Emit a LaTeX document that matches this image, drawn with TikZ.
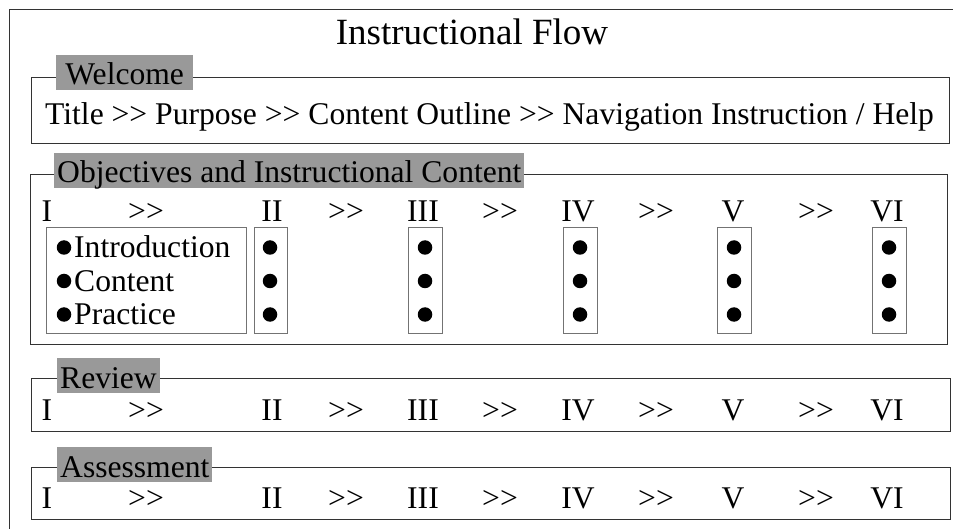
\documentclass[tikz,border=0pt]{standalone}
\usepackage{fontspec}
\setmainfont{Liberation Serif}
\tikzset{
	rahmen/.style={draw=black!80, line width=0.9pt},
	kasten/.style={draw=black!55, line width=0.8pt},
	kopf/.style={fill=black!40, inner xsep=3pt, inner ysep=0pt,
		text height=30pt, text depth=5pt, anchor=base west,
		font=\fontsize{31.6}{36}\selectfont},
	eintrag/.style={anchor=base, inner sep=0pt,
		font=\fontsize{31.6}{36}\selectfont},
	zeile/.style={eintrag, anchor=base west},
	punkt/.style={circle, fill=black, inner sep=0pt, minimum size=14.5pt}
}
\newcommand{\weiter}{>\kern0pt>}
\begin{document}
\begin{tikzpicture}[x=1pt,y=-1pt]
	\useasboundingbox (0,0) rectangle (953,529);
	% Rahmen
	\draw[
		line width=0.9pt,
		color=black!80
	] (9,529) -- (9,9) -- (953,9);
	% Titel
	\node[
		anchor=base,
		inner sep=0pt,
		font=\fontsize{37}{42}\selectfont
	] (titel) at (472,45) {Instructional Flow};
	% Welcome
	\draw[rahmen] (31,77) rectangle (949,143);
	\node[kopf, minimum width=137pt] (welcome) at (56,85) {Welcome};
	\node[eintrag, anchor=base west] (ablauf) at (45,125)
		{Title \weiter{} Purpose \weiter{} Content Outline \weiter{} Navigation Instruction / Help};
	% Objectives
	\draw[rahmen] (30,174) rectangle (947,344);
	\node[kopf] (objectives) at (54,183) {Objectives and Instructional Content};
	\node[eintrag] (o1) at (47,222) {I};
	\node[eintrag] (oa1) at (146,222) {\weiter};
	\node[eintrag] (o2) at (272,222) {II};
	\node[eintrag] (oa2) at (346,222) {\weiter};
	\node[eintrag] (o3) at (423,222) {III};
	\node[eintrag] (oa3) at (500,222) {\weiter};
	\node[eintrag] (o4) at (578,222) {IV};
	\node[eintrag] (oa4) at (656,222) {\weiter};
	\node[eintrag] (o5) at (733,222) {V};
	\node[eintrag] (oa5) at (816,222) {\weiter};
	\node[eintrag] (o6) at (887,222) {VI};
	% Teile I
	\draw[kasten] (46,227) rectangle (246,333);
	\node[punkt] (p1a) at (64,247.5) {};
	\node[punkt] (p1b) at (64,281) {};
	\node[punkt] (p1c) at (64,314.5) {};
	\node[zeile] (intro) at (74,258) {Introduction};
	\node[zeile] (inhalt) at (74,292) {Content};
	\node[zeile] (uebung) at (74,324) {Practice};
	% Teile II bis VI
	\draw[kasten] (254,227) rectangle (287,333);
	\node[punkt] (p2a) at (270,247.5) {};
	\node[punkt] (p2b) at (270,281) {};
	\node[punkt] (p2c) at (270,314.5) {};
	\draw[kasten] (408,227) rectangle (442,333);
	\node[punkt] (p3a) at (425,247.5) {};
	\node[punkt] (p3b) at (425,281) {};
	\node[punkt] (p3c) at (425,314.5) {};
	\draw[kasten] (563,227) rectangle (597,333);
	\node[punkt] (p4a) at (580,247.5) {};
	\node[punkt] (p4b) at (580,281) {};
	\node[punkt] (p4c) at (580,314.5) {};
	\draw[kasten] (717,227) rectangle (751,333);
	\node[punkt] (p5a) at (734,247.5) {};
	\node[punkt] (p5b) at (734,281) {};
	\node[punkt] (p5c) at (734,314.5) {};
	\draw[kasten] (872,227) rectangle (906,333);
	\node[punkt] (p6a) at (889,247.5) {};
	\node[punkt] (p6b) at (889,281) {};
	\node[punkt] (p6c) at (889,314.5) {};
	% Review
	\draw[rahmen] (31,378) rectangle (950,431);
	\node[kopf] (review) at (57,388) {Review};
	\node[eintrag] (r1) at (47,420) {I};
	\node[eintrag] (ra1) at (146,420) {\weiter};
	\node[eintrag] (r2) at (272,420) {II};
	\node[eintrag] (ra2) at (346,420) {\weiter};
	\node[eintrag] (r3) at (423,420) {III};
	\node[eintrag] (ra3) at (500,420) {\weiter};
	\node[eintrag] (r4) at (578,420) {IV};
	\node[eintrag] (ra4) at (656,420) {\weiter};
	\node[eintrag] (r5) at (733,420) {V};
	\node[eintrag] (ra5) at (816,420) {\weiter};
	\node[eintrag] (r6) at (887,420) {VI};
	% Assessment
	\draw[rahmen] (31,467) rectangle (950,519);
	\node[kopf] (assessment) at (57,477) {Assessment};
	\node[eintrag] (a1) at (47,508) {I};
	\node[eintrag] (aa1) at (146,508) {\weiter};
	\node[eintrag] (a2) at (272,508) {II};
	\node[eintrag] (aa2) at (346,508) {\weiter};
	\node[eintrag] (a3) at (423,508) {III};
	\node[eintrag] (aa3) at (500,508) {\weiter};
	\node[eintrag] (a4) at (578,508) {IV};
	\node[eintrag] (aa4) at (656,508) {\weiter};
	\node[eintrag] (a5) at (733,508) {V};
	\node[eintrag] (aa5) at (816,508) {\weiter};
	\node[eintrag] (a6) at (887,508) {VI};
\end{tikzpicture}
\end{document}
